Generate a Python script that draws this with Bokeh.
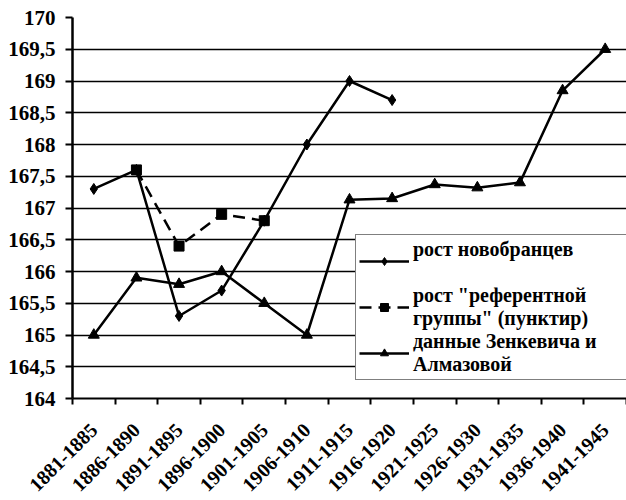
import numpy as np
from bokeh.plotting import figure
from bokeh.models import FixedTicker, Range1d, Legend, LegendItem
from bokeh.embed import file_html
from bokeh.resources import INLINE

categories = ["1881-1885", "1886-1890", "1891-1895", "1896-1900", "1901-1905",
              "1906-1910", "1911-1915", "1916-1920", "1921-1925", "1926-1930",
              "1931-1935", "1936-1940", "1941-1945"]
recruits = [167.3, 167.6, 165.3, 165.7, 166.8, 168.0, 169.0, 168.7,
            None, None, None, None, None]
reference_group = [None, 167.6, 166.4, 166.9, 166.8, None, None, None,
                   None, None, None, None, None]
zenkevich = [165.0, 165.9, 165.8, 166.0, 165.5, 165.0, 167.13, 167.15,
             167.37, 167.32, 167.4, 168.85, 169.5]
y_ticks = [164, 164.5, 165, 165.5, 166, 166.5, 167, 167.5, 168, 168.5, 169, 169.5, 170]
y_labels = ["164", "164,5", "165", "165,5", "166", "166,5", "167", "167,5",
            "168", "168,5", "169", "169,5", "170"]
legend_labels = ["рост новобранцев\n ",
                 "рост \"референтной\nгруппы\" (пунктир)",
                 "данные Зенкевича и\nАлмазовой"]

def arr(v):
    return np.array([np.nan if a is None else a for a in v], dtype=float)

x = np.arange(len(categories)) + 0.5

p = figure(width=626, height=500, x_range=Range1d(0, len(categories)),
           y_range=Range1d(164, 170), output_backend="svg", toolbar_location=None,
           min_border_left=72, min_border_right=0, min_border_top=17, min_border_bottom=102)
p.outline_line_color = None
p.background_fill_color = "white"

FONT = "Times New Roman"

xa = p.xaxis[0]
xa.ticker = FixedTicker(ticks=list(x), minor_ticks=list(range(len(categories) + 1)))
xa.major_label_overrides = {float(xi): c for xi, c in zip(x, categories)}
xa.major_tick_line_color = None
xa.minor_tick_line_color = "black"
xa.minor_tick_line_width = 2
xa.minor_tick_out = 6
xa.minor_tick_in = 0
xa.axis_line_color = "black"
xa.axis_line_width = 2
xa.major_label_orientation = np.pi / 4
xa.major_label_text_font = FONT
xa.major_label_text_font_style = "bold"
xa.major_label_text_font_size = "20px"
xa.major_label_text_color = "black"
xa.major_label_standoff = 22

ya = p.yaxis[0]
ya.ticker = FixedTicker(ticks=y_ticks, minor_ticks=[])
ya.major_label_overrides = {float(t): l for t, l in zip(y_ticks, y_labels)}
ya.major_tick_line_color = "black"
ya.major_tick_line_width = 2
ya.major_tick_out = 7
ya.major_tick_in = 0
ya.axis_line_color = "black"
ya.axis_line_width = 2.5
ya.major_label_text_font = FONT
ya.major_label_text_font_style = "bold"
ya.major_label_text_font_size = "21px"
ya.major_label_text_color = "black"
ya.major_label_standoff = 10

p.xgrid.grid_line_color = None
p.ygrid.ticker = FixedTicker(ticks=y_ticks, minor_ticks=[])
p.ygrid.grid_line_color = "black"
p.ygrid.grid_line_width = 1.5

l1 = p.line(x, arr(recruits), line_color="black", line_width=2.5)
s1 = p.scatter(x, arr(recruits), marker="diamond", size=11, color="black")
l2 = p.line(x, arr(reference_group), line_color="black", line_width=2.5, line_dash="12 7")
s2 = p.scatter(x, arr(reference_group), marker="square", size=10, color="black")
l3 = p.line(x, arr(zenkevich), line_color="black", line_width=2.5)
s3 = p.scatter(x, arr(zenkevich), marker="triangle", size=11, color="black")

legend = Legend(items=[LegendItem(label=legend_labels[0], renderers=[l1, s1]),
                       LegendItem(label=legend_labels[1], renderers=[l2, s2]),
                       LegendItem(label=legend_labels[2], renderers=[l3, s3])],
                location=(283, 18), margin=0, padding=3, spacing=0,
                glyph_width=50, glyph_height=20, label_standoff=4, label_width=212)
legend.border_line_color = "black"
legend.border_line_width = 1.5
legend.background_fill_color = "white"
legend.background_fill_alpha = 1
legend.label_text_font = FONT
legend.label_text_font_style = "bold"
legend.label_text_font_size = "20px"
legend.label_text_color = "black"
legend.label_text_line_height = 0.95
p.add_layout(legend)

open("out.html", "w").write(file_html(p, INLINE))
